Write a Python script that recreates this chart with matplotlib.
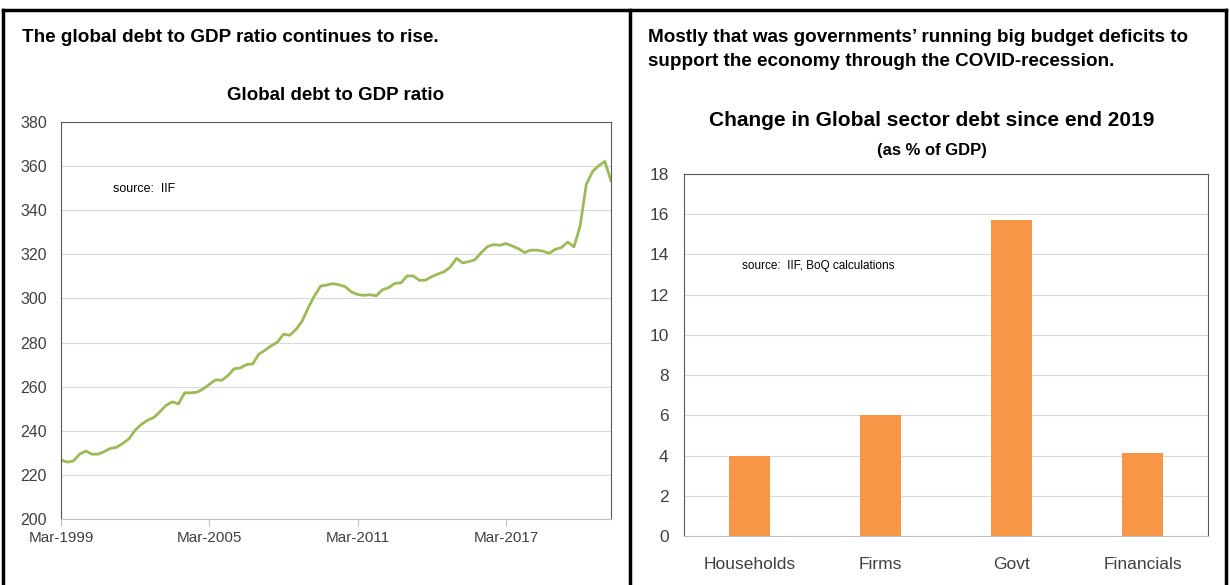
import matplotlib
matplotlib.use("Agg")
import matplotlib.pyplot as plt
import matplotlib.dates as mdates
from matplotlib.lines import Line2D
import pandas as pd

# quarterly global debt to GDP ratio, Mar-1999 .. Jun-2021
debt_ratio = [
    226.7, 225.8, 226.3, 229.4, 230.8, 229.4, 229.4, 230.6, 232.0, 232.5,
    234.3, 236.4, 240.3, 242.9, 244.8, 246.0, 248.6, 251.5, 253.1, 252.2,
    257.2, 257.2, 257.5, 259.0, 261.0, 263.1, 262.9, 265.0, 268.1, 268.5,
    270.0, 270.3, 274.7, 276.5, 278.5, 280.2, 283.8, 283.3, 285.9, 289.7,
    295.8, 301.1, 305.6, 306.1, 306.7, 306.2, 305.3, 302.9, 301.8, 301.4,
    301.7, 301.2, 303.9, 304.9, 306.8, 307.1, 310.2, 310.2, 308.2, 308.3,
    309.9, 311.1, 312.1, 314.3, 318.2, 316.1, 316.7, 317.6, 320.8, 323.5,
    324.4, 324.1, 324.9, 323.8, 322.6, 320.8, 321.9, 321.9, 321.4, 320.5,
    322.3, 323.1, 325.6, 323.4, 332.9, 351.7, 357.5, 360.2, 362.1, 353.4,
]
quarters = pd.date_range("1999-03-31", periods=len(debt_ratio), freq="QE")
tick_dates = pd.to_datetime(["1999-03-31", "2005-03-31", "2011-03-31", "2017-03-31"])

sectors = ["Households", "Firms", "Govt", "Financials"]
sector_change = [4.0, 6.0, 15.7, 4.15]

font = ["Liberation Sans", "DejaVu Sans"]
tick_grey = "#404040"
grid_grey = "#D9D9D9"
green = "#9BBB59"
orange = "#F79646"

W, H = 1230, 585
fig = plt.figure(figsize=(W / 100, H / 100), dpi=100)
plt.rcParams["font.family"] = font


def px_axes(x0, x1, ytop, ybot):
    return fig.add_axes([x0 / W, (H - ybot) / H, (x1 - x0) / W, (ybot - ytop) / H])


# panel frames
frame = [((3 / W, 3 / W), (0, 1 - 10 / H)),
         ((630 / W, 630 / W), (0, 1 - 10 / H)),
         ((1226 / W, 1226 / W), (0, 1 - 10 / H)),
         ((3 / W, 1226 / W), (1 - 10 / H, 1 - 10 / H))]
for fx, fy in frame:
    fig.add_artist(Line2D(fx, fy, color="black", lw=2.5, transform=fig.transFigure))

# headlines
fig.text(22 / W, 1 - 37 / H, "The global debt to GDP ratio continues to rise.",
         fontsize=13.6, fontweight="bold", va="center", ha="left")
fig.text(648 / W, 1 - 37 / H, "Mostly that was governments\u2019 running big budget deficits to",
         fontsize=13.6, fontweight="bold", va="center", ha="left")
fig.text(648 / W, 1 - 61 / H, "support the economy through the COVID-recession.",
         fontsize=13.6, fontweight="bold", va="center", ha="left")

# ---- left: line chart
ax1 = px_axes(61, 611, 122, 519)
ax1.plot(quarters, debt_ratio, color=green, lw=2.0)
ax1.set_xlim(quarters[0], quarters[-1])
ax1.set_ylim(200, 380)
ax1.set_yticks(range(200, 381, 20))
ax1.set_xticks(tick_dates)
ax1.xaxis.set_major_formatter(mdates.DateFormatter("%b-%Y"))
ax1.grid(axis="y", color=grid_grey, lw=0.8)
ax1.set_axisbelow(True)
for s in ["left", "top", "right"]:
    ax1.spines[s].set_color("#595959")
    ax1.spines[s].set_linewidth(0.8)
ax1.spines["bottom"].set_color("#BFBFBF")
ax1.tick_params(axis="y", length=0, pad=10, labelsize=11.5, labelcolor=tick_grey)
ax1.tick_params(axis="x", length=5, color="#BFBFBF", pad=4, labelsize=11, labelcolor=tick_grey)
ax1.set_title("Global debt to GDP ratio", fontsize=13.5, fontweight="bold", pad=16)
ax1.text(0.095, 0.83, "source:  IIF", transform=ax1.transAxes, fontsize=9,
         va="center")

# ---- right: bar chart
ax2 = px_axes(684, 1208, 174, 536)
ax2.bar(sectors, sector_change, width=0.32, color=orange)
ax2.set_xlim(-0.5, 3.5)
ax2.set_ylim(0, 18)
ax2.set_yticks(range(0, 19, 2))
ax2.grid(axis="y", color=grid_grey, lw=0.8)
ax2.set_axisbelow(True)
for s in ["left", "top", "right"]:
    ax2.spines[s].set_color("#595959")
    ax2.spines[s].set_linewidth(0.8)
ax2.spines["bottom"].set_color("#BFBFBF")
ax2.tick_params(axis="y", length=0, pad=11, labelsize=12.5, labelcolor=tick_grey)
ax2.tick_params(axis="x", length=0, pad=15, labelsize=12.5, labelcolor=tick_grey)
ax2.text(0.11, 0.745, "source:  IIF, BoQ calculations", transform=ax2.transAxes,
         fontsize=8.5, va="center")
fig.text(932 / W, 1 - 121 / H, "Change in Global sector debt since end 2019",
         fontsize=15, fontweight="bold", ha="center", va="center")
fig.text(932 / W, 1 - 151 / H, "(as % of GDP)",
         fontsize=12, fontweight="bold", ha="center", va="center")

fig.savefig("out.png", dpi=100)
